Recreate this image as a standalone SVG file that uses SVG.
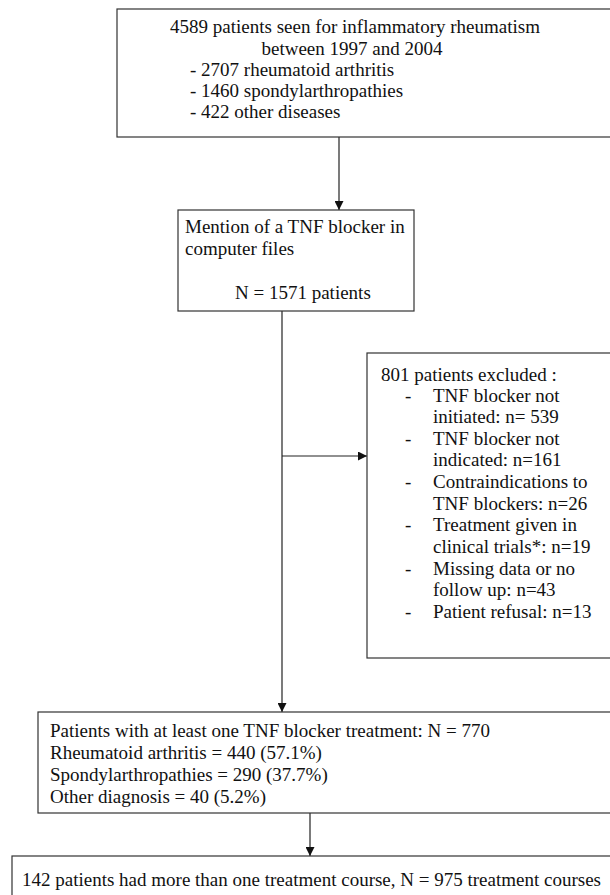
<svg xmlns="http://www.w3.org/2000/svg" width="610" height="895" viewBox="0 0 610 895">
<style>
.box{fill:#fff;stroke:#333;stroke-width:1.2}
.t{font-family:"Liberation Serif","Times New Roman",serif;font-size:19px;fill:#111}
.c{text-anchor:middle}
.ln{stroke:#222;stroke-width:1.2;fill:none}
</style>
<defs>
<marker id="ah" viewBox="0 0 10 10" refX="10" refY="5" markerWidth="9" markerHeight="9" markerUnits="userSpaceOnUse" orient="auto">
<path d="M0,0 L10,5 L0,10 z" fill="#111"/>
</marker>
</defs>
<g id="connectors">
<line class="ln" x1="339" y1="137" x2="339" y2="210" marker-end="url(#ah)"/>
<line class="ln" x1="282" y1="311" x2="282" y2="712" marker-end="url(#ah)"/>
<line class="ln" x1="282" y1="456" x2="367" y2="456" marker-end="url(#ah)"/>
<line class="ln" x1="310" y1="813" x2="310" y2="856" marker-end="url(#ah)"/>
</g>
<g id="n1">
<rect class="box" x="117" y="9" width="510" height="128"/>
<text class="t c" x="355" y="33">4589 patients seen for inflammatory rheumatism</text>
<text class="t c" x="352" y="55">between 1997 and 2004</text>
<text class="t" x="190" y="76">- 2707 rheumatoid arthritis</text>
<text class="t" x="190" y="97">- 1460 spondylarthropathies</text>
<text class="t" x="190" y="118">- 422 other diseases</text>
</g>
<g id="n2">
<rect class="box" x="178" y="210" width="236" height="101"/>
<text class="t" x="185" y="233">Mention of a TNF blocker in</text>
<text class="t" x="185" y="255">computer files</text>
<text class="t" x="235" y="299">N = 1571 patients</text>
</g>
<g id="n3">
<rect class="box" x="367" y="353" width="260" height="305"/>
<text class="t" x="381" y="381">801 patients excluded :</text>
<g class="t">
<text x="405" y="402">-</text><text x="433" y="402">TNF blocker not</text>
<text x="433" y="423">initiated: n= 539</text>
<text x="405" y="445">-</text><text x="433" y="445">TNF blocker not</text>
<text x="433" y="466">indicated: n=161</text>
<text x="405" y="488">-</text><text x="433" y="488">Contraindications to</text>
<text x="433" y="510">TNF blockers: n=26</text>
<text x="405" y="531">-</text><text x="433" y="531">Treatment given in</text>
<text x="433" y="553">clinical trials*: n=19</text>
<text x="405" y="575">-</text><text x="433" y="575">Missing data or no</text>
<text x="433" y="596">follow up: n=43</text>
<text x="405" y="618">-</text><text x="433" y="618">Patient refusal: n=13</text>
</g>
</g>
<g id="n4">
<rect class="box" x="38" y="712" width="590" height="101"/>
<text class="t" x="50" y="737">Patients with at least one TNF blocker treatment: N = 770</text>
<text class="t" x="50" y="759">Rheumatoid arthritis = 440 (57.1%)</text>
<text class="t" x="50" y="781">Spondylarthropathies = 290 (37.7%)</text>
<text class="t" x="50" y="803">Other diagnosis = 40 (5.2%)</text>
</g>
<g id="n5">
<rect class="box" x="12" y="856" width="620" height="60"/>
<text class="t" x="22" y="886">142 patients had more than one treatment course, N = 975 treatment courses</text>
</g>
</svg>
